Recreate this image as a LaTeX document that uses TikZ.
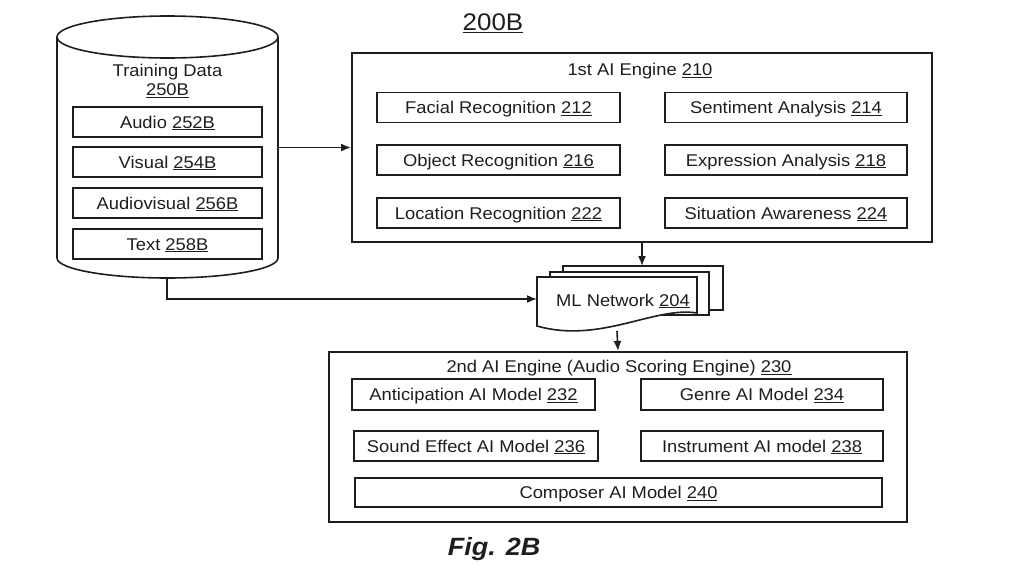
\documentclass[tikz,border=0pt]{standalone}
\usepackage{fontspec}
\setmainfont[FakeStretch=1.08]{Liberation Sans}
\usetikzlibrary{arrows.meta}
\definecolor{ink}{RGB}{30,30,30}
\newcommand{\refno}[1]{\underline{#1}}

\begin{document}
\begin{tikzpicture}[x=1pt, y=-1pt, >={Latex[length=10pt,width=8pt]},
    every node/.style={font=\fontsize{17}{20}\selectfont, text=ink},
    box/.style={draw=ink, line width=1.6pt, minimum height=30pt, inner sep=0pt, text height=15pt, text depth=3pt},
    frame/.style={draw=ink, line width=2pt, inner sep=0pt},
    link/.style={draw=ink, line width=1.6pt}]

    \useasboundingbox (0,0) rectangle (1024,576);

    % Title
    \node (title) at (493,23) {\fontsize{24}{28}\selectfont\refno{200B}};

    % Training data cylinder
    \draw[link, fill=white] (57,37) -- (57,258) arc[start angle=180, end angle=0, x radius=110.5, y radius=20] -- (278,37);
    \draw[link] (167.5,37) ellipse[x radius=110.5, y radius=21];
    \node (train_title) at (167.5,72) {Training Data};
    \node (train_num) at (167.5,91) {\refno{250B}};
    \node (audio) at (167.5,122) [box, minimum width=189pt] {Audio \refno{252B}};
    \node (visual) at (167.5,162) [box, minimum width=189pt] {Visual \refno{254B}};
    \node (audiovisual) at (167.5,203) [box, minimum width=189pt] {Audiovisual \refno{256B}};
    \node (text) at (167.5,244) [box, minimum width=189pt] {Text \refno{258B}};
    \coordinate (train_right) at (278,147.5);
    \coordinate (train_bottom) at (167,278);

    % 1st AI engine
    \node (engine1) at (642,147.5) [frame, minimum width=580pt, minimum height=189pt] {};
    \node (engine1_title) at (640,71) {1st AI Engine \refno{210}};
    \node (facial) at (498.5,107.5) [box, minimum width=243pt] {Facial Recognition \refno{212}};
    \node (sentiment) at (786,107.5) [box, minimum width=242pt] {Sentiment Analysis \refno{214}};
    \node (object) at (498.5,160) [box, minimum width=243pt] {Object Recognition \refno{216}};
    \node (expression) at (786,160) [box, minimum width=242pt] {Expression Analysis \refno{218}};
    \node (location) at (498.5,213) [box, minimum width=243pt] {Location Recognition \refno{222}};
    \node (situation) at (786,213) [box, minimum width=242pt] {Situation Awareness \refno{224}};

    % ML network (stacked documents)
    \draw[link, fill=white] (563,266) -- (723,266) -- (723,310) -- (563,310) -- cycle;
    \draw[link, fill=white] (550,272) -- (709,272) -- (709,315) -- (550,315) -- cycle;
    \draw[link, fill=white] (537,277) -- (697,277) -- (697,313) .. controls (655,306) and (600,344) .. (537,326) -- cycle;
    \node (ml) at (623,301) {ML Network \refno{204}};
    \coordinate (ml_in) at (537,299);
    \coordinate (ml_top) at (642,266);
    \coordinate (ml_out) at (617,331);

    % 2nd AI engine
    \node (engine2) at (618,437) [frame, minimum width=578pt, minimum height=170pt] {};
    \node (engine2_title) at (619,368) {2nd AI Engine (Audio Scoring Engine) \refno{230}};
    \node (anticipation) at (473.5,394.5) [box, minimum width=243pt, minimum height=31pt] {Anticipation AI Model \refno{232}};
    \node (genre) at (762,394.5) [box, minimum width=242pt, minimum height=31pt] {Genre AI Model \refno{234}};
    \node (sound) at (476,446) [box, minimum width=244pt] {Sound Effect AI Model \refno{236}};
    \node (instrument) at (762,446) [box, minimum width=242pt] {Instrument AI model \refno{238}};
    \node (composer) at (618.5,492.5) [box, minimum width=527pt, minimum height=29pt] {Composer AI Model \refno{240}};

    % Caption
    \node (caption) at (494,549) {\fontsize{25}{29}\selectfont\bfseries\itshape Fig. 2B};

    % Edges
    \draw[link, ->] (train_right) -- (engine1.west);
    \draw[link, ->] (train_bottom) |- (ml_in);
    \draw[link, ->] (engine1.south) -- (ml_top);
    \draw[link, ->] (ml_out) -- (engine2.north);

\end{tikzpicture}
\end{document}
